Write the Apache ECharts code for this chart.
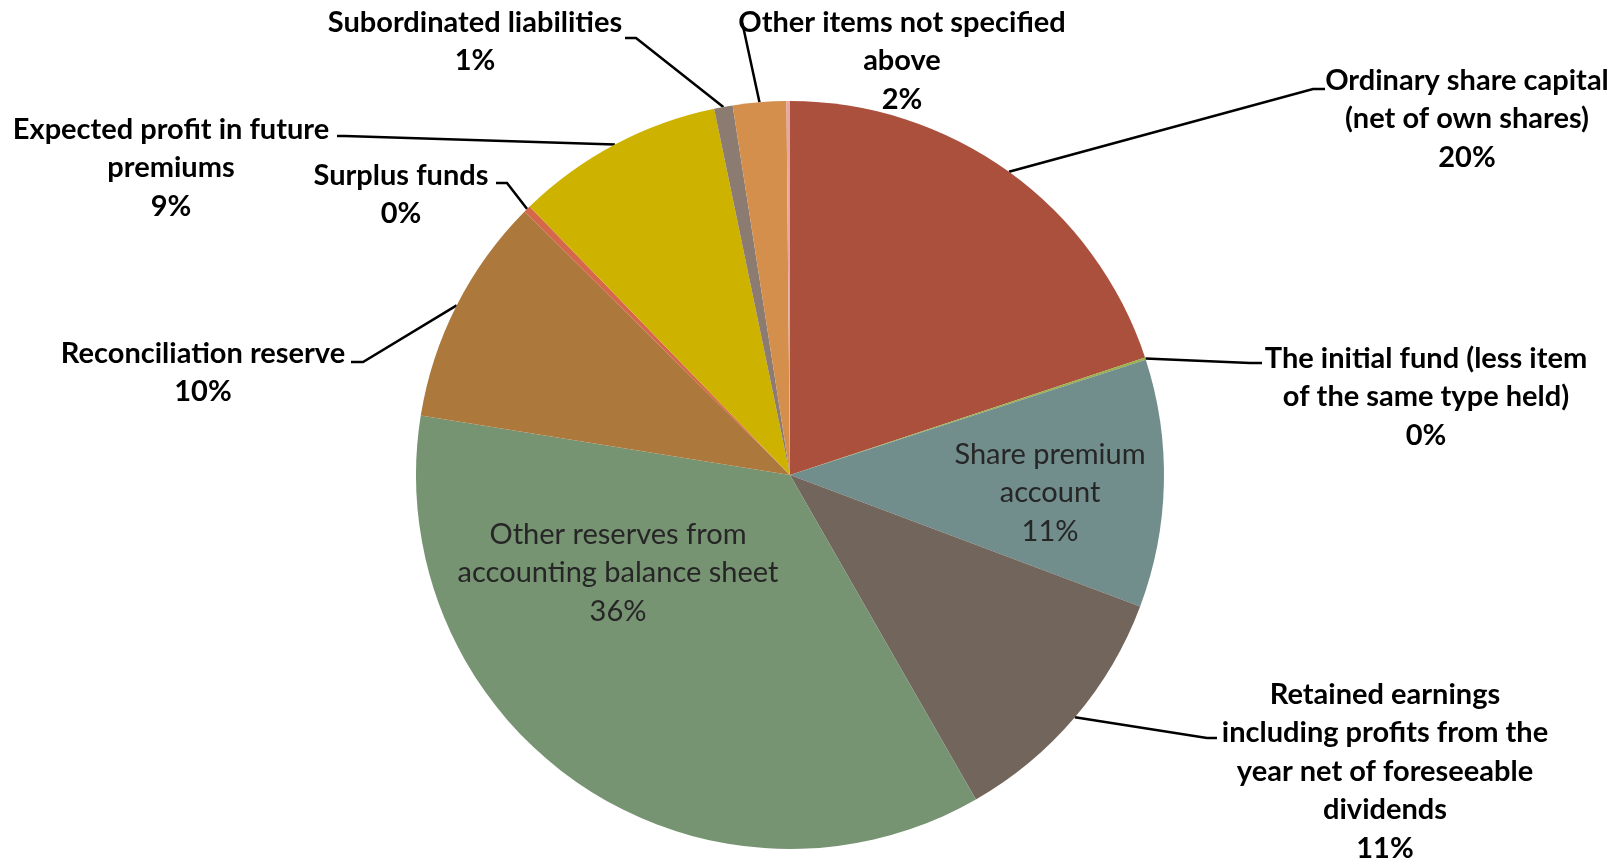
<!DOCTYPE html>
<html><head><meta charset="utf-8">
<script src="https://cdn.jsdelivr.net/npm/echarts@6/dist/echarts.min.js"></script>
<style>html,body{margin:0;padding:0;background:#fff}#c{width:1620px;height:865px}</style>
</head><body><div id="c"></div>
<script>
// ---- data ----
const categories = [
  'Ordinary share capital (net of own shares)',
  'The initial fund (less item of the same type held)',
  'Share premium account',
  'Retained earnings including profits from the year net of foreseeable dividends',
  'Other reserves from accounting balance sheet',
  'Reconciliation reserve',
  'Surplus funds',
  'Expected profit in future premiums',
  'Subordinated liabilities',
  'Other items not specified above',
  'Unlabelled item'
];
const values = [19.9, 0.1, 10.7, 11.0, 35.8, 9.9, 0.3, 9.0, 0.8, 2.3, 0.15];

// ---- label wrapping (text layout) ----
const wrapped = {
  'Ordinary share capital (net of own shares)': 'Ordinary share capital\n(net of own shares)',
  'The initial fund (less item of the same type held)': 'The initial fund (less item\nof the same type held)',
  'Share premium account': 'Share premium\naccount',
  'Retained earnings including profits from the year net of foreseeable dividends': 'Retained earnings\nincluding profits from the\nyear net of foreseeable\ndividends',
  'Other reserves from accounting balance sheet': 'Other reserves from\naccounting balance sheet',
  'Reconciliation reserve': 'Reconciliation reserve',
  'Surplus funds': 'Surplus funds',
  'Expected profit in future premiums': 'Expected profit in future\npremiums',
  'Subordinated liabilities': 'Subordinated liabilities',
  'Other items not specified above': 'Other items not specified\nabove'
};

// ---- styles / layout ----
const colors = ['#AA503D','#9BB04A','#718D8C','#72655B','#769372','#AC783C','#D5674A','#CDB300','#8C7B70','#D38F4B','#E8A6A6'];
const CX = 790, CY = 475, R = 374, LH = 38.5;
const insideNames = ['Share premium account','Other reserves from accounting balance sheet'];
// x = text centre, y = top of text block; line = leader bend & end
const labelPos = {
  'Ordinary share capital (net of own shares)': {x:1467, y:61, line:[[1313,89],[1325,89]]},
  'The initial fund (less item of the same type held)': {x:1426, y:339, line:[[1250,363],[1262,363]]},
  'Share premium account': {x:1050, y:435},
  'Retained earnings including profits from the year net of foreseeable dividends': {x:1385, y:675, line:[[1207,738],[1217,738]]},
  'Other reserves from accounting balance sheet': {x:618, y:515},
  'Reconciliation reserve': {x:203, y:334, line:[[363,362],[351,362]]},
  'Surplus funds': {x:401, y:156, line:[[507,183],[496,183]]},
  'Expected profit in future premiums': {x:171, y:110, line:[[345,136],[337,136]]},
  'Subordinated liabilities': {x:475, y:3, line:[[636,38],[625,38]]},
  'Other items not specified above': {x:902, y:3, line:[[743,26],[742,23]]}
};

const total = values.reduce((a,b)=>a+b,0);
function midAngle(i){
  let s = 0; for (let k=0;k<i;k++) s += values[k];
  return (s + values[i]/2) / total * 2 * Math.PI;
}

const data = categories.map((c,i)=>{
  const inside = insideNames.includes(c);
  const hidden = !labelPos[c];
  return {
    name: c, value: values[i],
    itemStyle: {color: colors[i]},
    label: hidden ? {show:false} : (inside ? {
      show:true, position:'inside', color:'#262626', fontWeight:'normal', fontSize:29
    } : {show:true, position:'outside'}),
    labelLine: {show: !inside && !hidden}
  };
});

const chart = echarts.init(document.getElementById('c'), null, {renderer:'canvas'});
chart.setOption({
  backgroundColor:'#fff',
  animation:false,
  series:[{
    type:'pie',
    center:[CX, CY],
    radius:[0, R],
    startAngle:90,
    clockwise:true,
    avoidLabelOverlap:false,
    percentPrecision:0,
    itemStyle:{borderWidth:0},
    emphasis:{disabled:true},
    label:{
      fontFamily:'Lato', fontSize:29, fontWeight:'bold', color:'#000',
      lineHeight:LH, align:'center', width:800, overflow:'none',
      formatter: p => (wrapped[p.name] || p.name) + '\n' + p.percent + '%'
    },
    labelLine:{lineStyle:{color:'#000', width:2.5}, smooth:false},
    labelLayout: function(p){
      const name = categories[p.dataIndex];
      const L = labelPos[name];
      if (!L) return {};
      const res = {x:L.x, y:L.y, align:'center', verticalAlign:'top'};
      if (L.line) {
        const a = midAngle(p.dataIndex);
        const ex = CX + R*Math.sin(a), ey = CY - R*Math.cos(a);
        res.labelLinePoints = [[ex,ey], L.line[0], L.line[1]];
      }
      return res;
    },
    data: data
  }]
});
</script>
</body></html>
